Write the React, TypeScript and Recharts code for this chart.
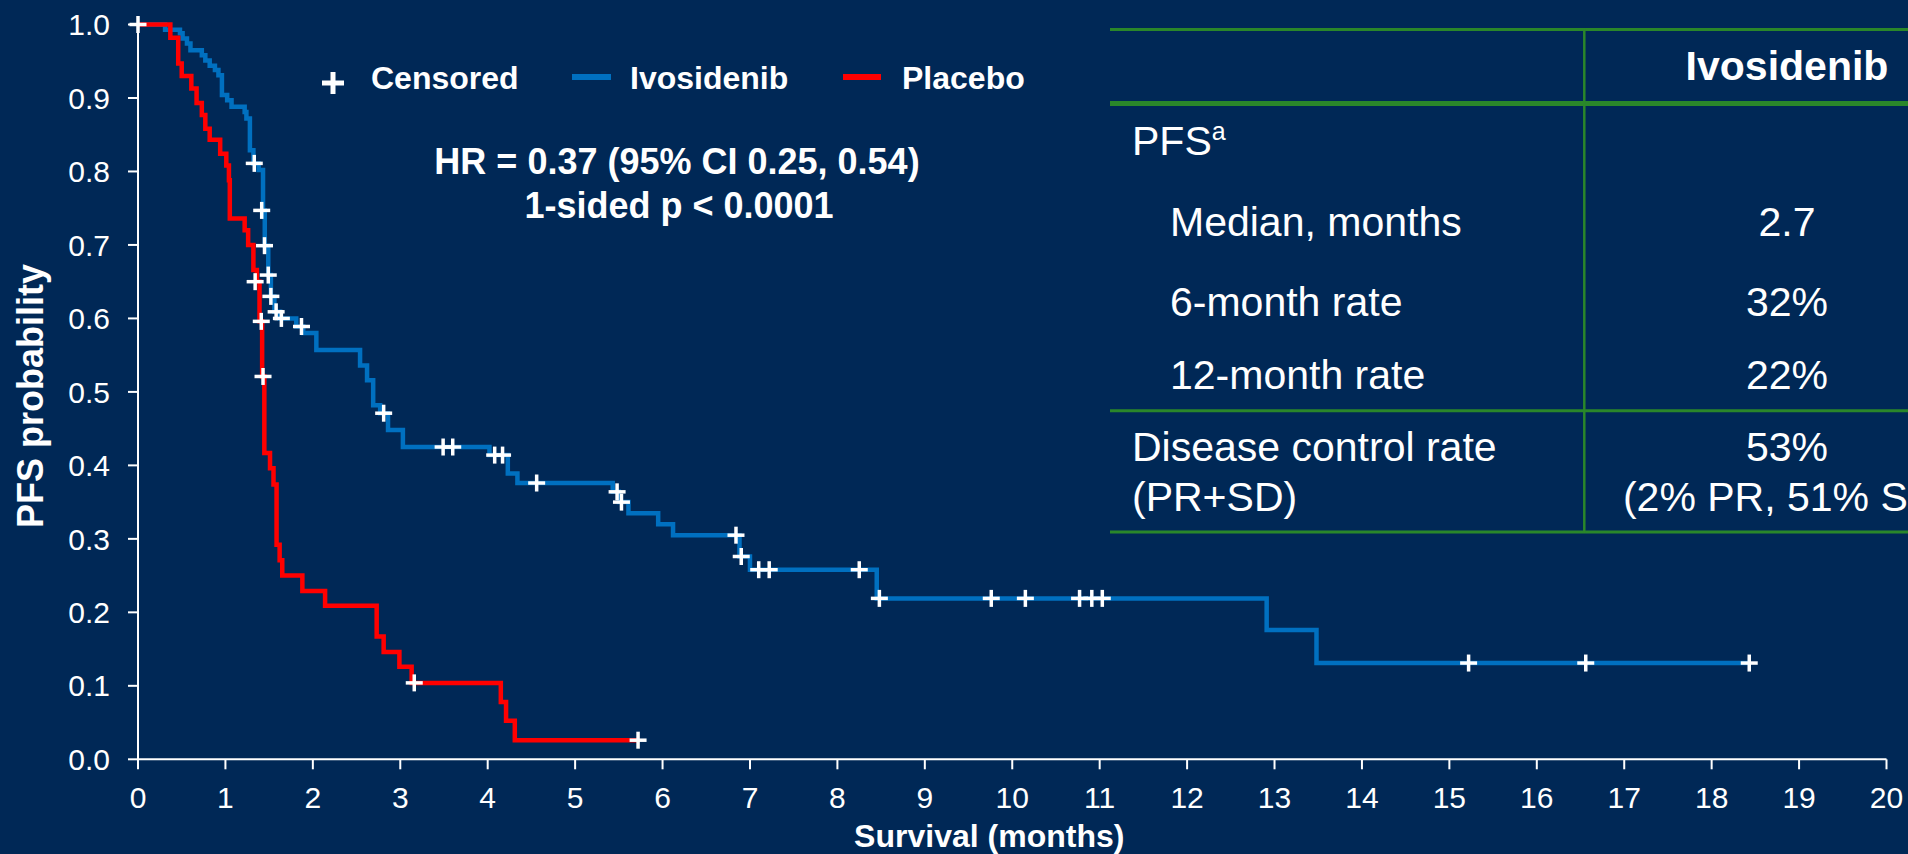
import { ComposedChart, Line, Scatter, XAxis, YAxis } from "recharts";

const BG = "#002856";
const BLUE = "#0070C0";
const RED = "#FF0000";
const GREEN = "#2A872A";
const FONT = '"Liberation Sans", Arial, sans-serif';

// Kaplan-Meier steps: survival s holds from month t until the next point
const ivosidenibCurve = [
    { t: 0, s: 1.0 }, { t: 0.31, s: 0.993 }, { t: 0.48, s: 0.988 }, { t: 0.51, s: 0.981 },
    { t: 0.56, s: 0.974 }, { t: 0.6, s: 0.965 }, { t: 0.73, s: 0.958 }, { t: 0.77, s: 0.951 },
    { t: 0.82, s: 0.944 }, { t: 0.88, s: 0.938 }, { t: 0.92, s: 0.931 }, { t: 0.96, s: 0.904 },
    { t: 1.02, s: 0.897 }, { t: 1.07, s: 0.888 }, { t: 1.22, s: 0.881 }, { t: 1.24, s: 0.872 },
    { t: 1.28, s: 0.829 }, { t: 1.32, s: 0.811 }, { t: 1.38, s: 0.802 }, { t: 1.43, s: 0.747 },
    { t: 1.45, s: 0.699 }, { t: 1.49, s: 0.659 }, { t: 1.52, s: 0.63 }, { t: 1.56, s: 0.609 },
    { t: 1.62, s: 0.6 }, { t: 1.81, s: 0.589 }, { t: 1.89, s: 0.58 }, { t: 2.04, s: 0.557 },
    { t: 2.54, s: 0.536 }, { t: 2.62, s: 0.516 }, { t: 2.69, s: 0.482 }, { t: 2.77, s: 0.471 },
    { t: 2.86, s: 0.448 }, { t: 3.03, s: 0.425 }, { t: 4.02, s: 0.414 }, { t: 4.23, s: 0.389 },
    { t: 4.34, s: 0.376 }, { t: 5.43, s: 0.364 }, { t: 5.5, s: 0.35 }, { t: 5.61, s: 0.335 },
    { t: 5.95, s: 0.32 }, { t: 6.12, s: 0.305 }, { t: 6.88, s: 0.276 }, { t: 7.0, s: 0.258 },
    { t: 8.45, s: 0.219 }, { t: 12.91, s: 0.176 }, { t: 13.48, s: 0.131 }, { t: 18.43, s: 0.131 },
];

const placeboCurve = [
    { t: 0, s: 1.0 }, { t: 0.37, s: 0.982 }, { t: 0.46, s: 0.947 }, { t: 0.5, s: 0.93 },
    { t: 0.61, s: 0.913 }, { t: 0.67, s: 0.893 }, { t: 0.73, s: 0.877 }, { t: 0.77, s: 0.858 },
    { t: 0.82, s: 0.843 }, { t: 0.94, s: 0.824 }, { t: 1.01, s: 0.808 }, { t: 1.04, s: 0.788 },
    { t: 1.05, s: 0.736 }, { t: 1.22, s: 0.72 }, { t: 1.26, s: 0.7 }, { t: 1.32, s: 0.666 },
    { t: 1.36, s: 0.65 }, { t: 1.39, s: 0.596 }, { t: 1.42, s: 0.521 }, { t: 1.445, s: 0.417 },
    { t: 1.51, s: 0.396 }, { t: 1.55, s: 0.374 }, { t: 1.585, s: 0.292 }, { t: 1.62, s: 0.271 },
    { t: 1.65, s: 0.25 }, { t: 1.88, s: 0.229 }, { t: 2.14, s: 0.209 }, { t: 2.73, s: 0.167 },
    { t: 2.81, s: 0.146 }, { t: 2.99, s: 0.126 }, { t: 3.13, s: 0.104 }, { t: 4.15, s: 0.078 },
    { t: 4.21, s: 0.0525 }, { t: 4.31, s: 0.026 }, { t: 5.72, s: 0.026 },
];

const ivosidenibCensored = [
    { t: 1.33, s: 0.811 }, { t: 1.415, s: 0.747 }, { t: 1.447, s: 0.699 }, { t: 1.49, s: 0.659 },
    { t: 1.52, s: 0.63 }, { t: 1.58, s: 0.609 }, { t: 1.64, s: 0.6 }, { t: 1.87, s: 0.589 },
    { t: 2.81, s: 0.471 }, { t: 3.49, s: 0.425 }, { t: 3.6, s: 0.425 }, { t: 4.08, s: 0.414 },
    { t: 4.17, s: 0.414 }, { t: 4.56, s: 0.376 }, { t: 5.48, s: 0.364 }, { t: 5.53, s: 0.35 },
    { t: 6.84, s: 0.305 }, { t: 6.9, s: 0.276 }, { t: 7.1, s: 0.258 }, { t: 7.22, s: 0.258 },
    { t: 8.25, s: 0.258 }, { t: 8.48, s: 0.219 }, { t: 9.76, s: 0.219 }, { t: 10.15, s: 0.219 },
    { t: 10.77, s: 0.219 }, { t: 10.91, s: 0.219 }, { t: 11.03, s: 0.219 }, { t: 15.22, s: 0.131 },
    { t: 16.56, s: 0.131 }, { t: 18.43, s: 0.131 },
];

const placeboCensored = [
    { t: 0, s: 1.0 }, { t: 1.34, s: 0.65 }, { t: 1.41, s: 0.596 }, { t: 1.43, s: 0.521 },
    { t: 3.16, s: 0.104 }, { t: 5.72, s: 0.026 },
];

const xTicks = [0, 1, 2, 3, 4, 5, 6, 7, 8, 9, 10, 11, 12, 13, 14, 15, 16, 17, 18, 19, 20];
const yTicks = [0, 0.1, 0.2, 0.3, 0.4, 0.5, 0.6, 0.7, 0.8, 0.9, 1.0];

const legendItems = ["Censored", "Ivosidenib", "Placebo"];
const hrLines = ["HR = 0.37 (95% CI 0.25, 0.54)", "1-sided p < 0.0001"];

const tableHeader = "Ivosidenib";
const tableLabels = ["Median, months", "6-month rate", "12-month rate"];
const tableValues = ["2.7", "32%", "22%"];
const dcrLabel = ["Disease control rate", "(PR+SD)"];
const dcrValue = ["53%", "(2% PR, 51% SD)"];

const CensorMark = (props: any) => {
    const { cx, cy } = props;
    if (cx == null || cy == null) return null;
    const h = 8.5;
    return (
        <g>
            <line x1={cx - h} y1={cy} x2={cx + h} y2={cy} stroke="#fff" strokeWidth={3.5} />
            <line x1={cx} y1={cy - h} x2={cx} y2={cy + h} stroke="#fff" strokeWidth={3.5} />
        </g>
    );
};

const XTitle = (props: any) => {
    const vb = props.viewBox ?? { x: 138, y: 759.3, width: 1748.5, height: 94.7 };
    return (
        <text
            x={vb.x + vb.width / 2 - 23}
            y={vb.y + 88}
            textAnchor="middle"
            fill="#fff"
            fontSize={32}
            fontWeight={700}
            fontFamily={FONT}
        >
            Survival (months)
        </text>
    );
};

const YTitle = (props: any) => {
    const vb = props.viewBox ?? { x: 0, y: 24.5, width: 138, height: 734.8 };
    const cy = vb.y + vb.height / 2 + 4;
    return (
        <text
            x={43}
            y={cy}
            transform={`rotate(-90, 43, ${cy})`}
            textAnchor="middle"
            fill="#fff"
            fontSize={36}
            fontWeight={700}
            fontFamily={FONT}
        >
            PFS probability
        </text>
    );
};

function Overlay() {
    const rowBase = [235.7, 316, 389.3];
    const colC = 1787;
    return (
        <svg
            width={1908}
            height={854}
            style={{ position: "absolute", left: 0, top: 0, pointerEvents: "none" }}
            fontFamily={FONT}
        >
            {/* legend */}
            <line x1={322} y1={83} x2={344} y2={83} stroke="#fff" strokeWidth={5} />
            <line x1={333} y1={72} x2={333} y2={94} stroke="#fff" strokeWidth={5} />
            <text x={371} y={89} fill="#fff" fontSize={32} fontWeight={700}>{legendItems[0]}</text>
            <line x1={572} y1={77} x2={611} y2={77} stroke={BLUE} strokeWidth={6} />
            <text x={630} y={89} fill="#fff" fontSize={32} fontWeight={700}>{legendItems[1]}</text>
            <line x1={843} y1={77} x2={881} y2={77} stroke={RED} strokeWidth={6} />
            <text x={902} y={89} fill="#fff" fontSize={32} fontWeight={700}>{legendItems[2]}</text>

            {/* hazard ratio */}
            <text x={677} y={174} textAnchor="middle" fill="#fff" fontSize={36} fontWeight={700}>{hrLines[0]}</text>
            <text x={679} y={218} textAnchor="middle" fill="#fff" fontSize={36} fontWeight={700}>{hrLines[1]}</text>

            {/* table */}
            <line x1={1110} y1={29.6} x2={1908} y2={29.6} stroke={GREEN} strokeWidth={3} />
            <line x1={1110} y1={103.6} x2={1908} y2={103.6} stroke={GREEN} strokeWidth={5} />
            <line x1={1110} y1={410.7} x2={1908} y2={410.7} stroke={GREEN} strokeWidth={3} />
            <line x1={1110} y1={532} x2={1908} y2={532} stroke={GREEN} strokeWidth={3} />
            <line x1={1584.3} y1={28} x2={1584.3} y2={533} stroke={GREEN} strokeWidth={2.5} />

            <text x={colC} y={80.4} textAnchor="middle" fill="#fff" fontSize={41} fontWeight={700}>{tableHeader}</text>
            <text x={1132} y={155} fill="#fff" fontSize={41}>
                PFS
                <tspan fontSize={25} dy={-15}>a</tspan>
            </text>
            {tableLabels.map((lab, i) => (
                <text key={lab} x={1170} y={rowBase[i]} fill="#fff" fontSize={41}>{lab}</text>
            ))}
            {tableValues.map((v, i) => (
                <text key={v} x={colC} y={rowBase[i]} textAnchor="middle" fill="#fff" fontSize={41}>{v}</text>
            ))}
            <text x={1132} y={460.7} fill="#fff" fontSize={41}>{dcrLabel[0]}</text>
            <text x={1132} y={510.7} fill="#fff" fontSize={41}>{dcrLabel[1]}</text>
            <text x={colC} y={460.7} textAnchor="middle" fill="#fff" fontSize={41}>{dcrValue[0]}</text>
            <text x={colC} y={510.7} textAnchor="middle" fill="#fff" fontSize={41}>{dcrValue[1]}</text>
        </svg>
    );
}

export default function App() {
    return (
        <div
            style={{
                position: "fixed",
                left: 0,
                top: 0,
                width: 1908,
                height: 854,
                background: BG,
                overflow: "hidden",
                fontFamily: FONT,
            }}
        >
            <ComposedChart
                width={1908}
                height={854}
                margin={{ top: 24.5, right: 21.5, bottom: 0, left: 0 }}
                style={{ position: "absolute", left: 0, top: 0 }}
            >
                <XAxis
                    dataKey="t"
                    type="number"
                    domain={[0, 20]}
                    ticks={xTicks}
                    interval={0}
                    height={94.7}
                    stroke="#fff"
                    strokeWidth={2}
                    tickSize={10}
                    tickMargin={17}
                    tick={{ fill: "#fff", fontSize: 30, fontFamily: FONT }}
                    tickLine={{ stroke: "#fff", strokeWidth: 2 }}
                    label={(p: any) => <XTitle {...p} />}
                />
                <YAxis
                    type="number"
                    domain={[0, 1]}
                    ticks={yTicks}
                    interval={0}
                    width={138}
                    stroke="#fff"
                    strokeWidth={2}
                    tickSize={10}
                    tickMargin={18}
                    tickFormatter={(v: number) => v.toFixed(1)}
                    tick={{ fill: "#fff", fontSize: 30, fontFamily: FONT }}
                    tickLine={{ stroke: "#fff", strokeWidth: 2 }}
                    label={(p: any) => <YTitle {...p} />}
                />
                <Line
                    data={ivosidenibCurve}
                    dataKey="s"
                    type="stepAfter"
                    stroke={BLUE}
                    strokeWidth={4.5}
                    dot={false}
                    activeDot={false}
                    isAnimationActive={false}
                />
                <Line
                    data={placeboCurve}
                    dataKey="s"
                    type="stepAfter"
                    stroke={RED}
                    strokeWidth={4.5}
                    dot={false}
                    activeDot={false}
                    isAnimationActive={false}
                />
                <Scatter
                    data={ivosidenibCensored}
                    dataKey="s"
                    shape={(p: any) => <CensorMark {...p} />}
                    isAnimationActive={false}
                />
                <Scatter
                    data={placeboCensored}
                    dataKey="s"
                    shape={(p: any) => <CensorMark {...p} />}
                    isAnimationActive={false}
                />
            </ComposedChart>
            <Overlay />
        </div>
    );
}
